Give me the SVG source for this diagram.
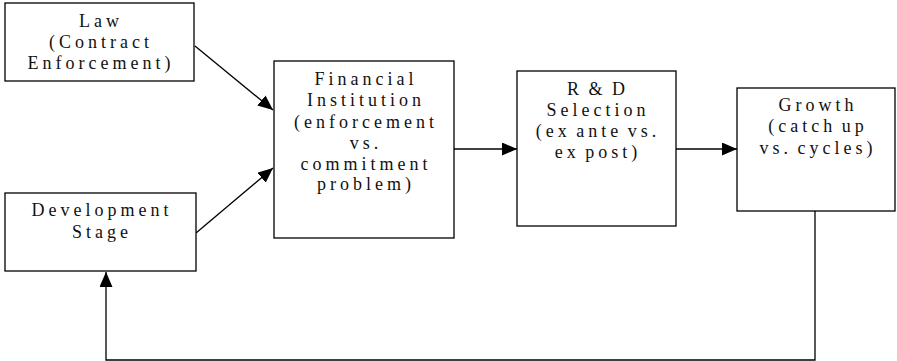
<svg xmlns="http://www.w3.org/2000/svg" width="897" height="361" viewBox="0 0 897 361">
<style>
.box{fill:#fff;stroke:#000;stroke-width:1.3}
.t{font-family:"Liberation Serif","Times New Roman",serif;font-size:18px;letter-spacing:4px;word-spacing:-3px;fill:#111;text-anchor:middle}
.c{fill:none;stroke:#000;stroke-width:1.3}
</style>
<defs>
<marker id="ah" markerUnits="userSpaceOnUse" markerWidth="16" markerHeight="14" refX="15" refY="6.5" orient="auto" viewBox="0 0 16 14">
<path d="M0,0 L15,6.5 L0,13 z" fill="#000"/>
</marker>
</defs>
<rect width="897" height="361" fill="#fff"/>
<g id="connectors">
<line class="c" x1="195" y1="46" x2="273" y2="110" marker-end="url(#ah)"/>
<line class="c" x1="196" y1="233" x2="273" y2="168" marker-end="url(#ah)"/>
<line class="c" x1="454" y1="149" x2="517" y2="149" marker-end="url(#ah)"/>
<line class="c" x1="676" y1="149" x2="737" y2="149" marker-end="url(#ah)"/>
<polyline class="c" points="815,211 815,360 106,360 106,272" marker-end="url(#ah)"/>
</g>
<g id="law">
<rect class="box" x="5" y="3" width="189" height="78"/>
<text class="t" x="101" y="27">Law</text>
<text class="t" x="101" y="48">(Contract</text>
<text class="t" x="101" y="69">Enforcement)</text>
</g>
<g id="development">
<rect class="box" x="5" y="193" width="191" height="78"/>
<text class="t" x="102" y="216">Development</text>
<text class="t" x="102" y="238">Stage</text>
</g>
<g id="financial">
<rect class="box" x="274" y="61" width="180" height="177"/>
<text class="t" x="366" y="85">Financial</text>
<text class="t" x="366" y="106">Institution</text>
<text class="t" x="366" y="128">(enforcement</text>
<text class="t" x="366" y="149">vs.</text>
<text class="t" x="366" y="170">commitment</text>
<text class="t" x="366" y="190">problem)</text>
</g>
<g id="rd">
<rect class="box" x="517" y="71" width="159" height="155"/>
<text class="t" x="598" y="95">R &amp; D</text>
<text class="t" x="598" y="116">Selection</text>
<text class="t" x="598" y="137">(ex ante vs.</text>
<text class="t" x="598" y="158">ex post)</text>
</g>
<g id="growth">
<rect class="box" x="737" y="88" width="158" height="123"/>
<text class="t" x="818" y="111">Growth</text>
<text class="t" x="818" y="132">(catch up</text>
<text class="t" x="818" y="154">vs. cycles)</text>
</g>
</svg>
